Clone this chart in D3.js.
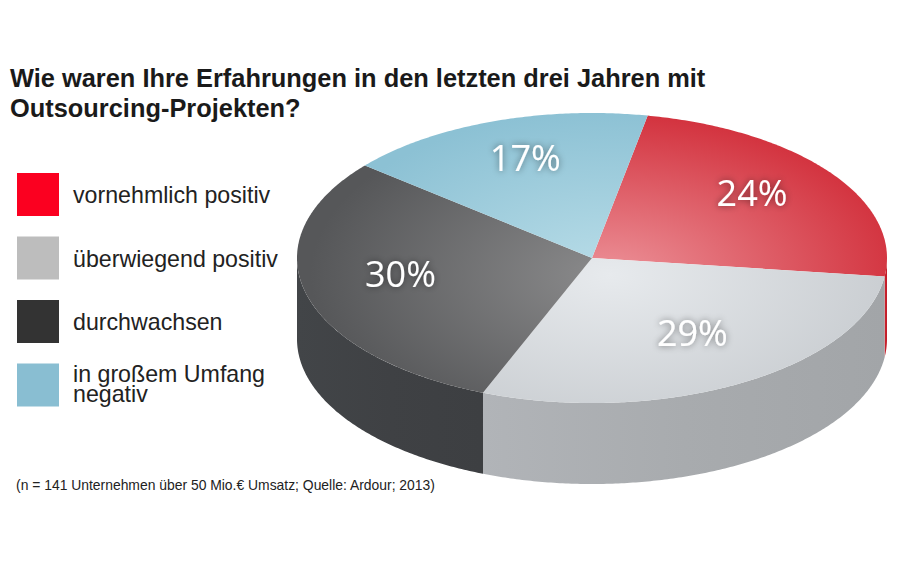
<!DOCTYPE html>
<html><head><meta charset="utf-8">
<script src="https://cdn.jsdelivr.net/npm/d3@7/dist/d3.min.js"></script>
<style>
html,body{margin:0;padding:0;background:#fff;}
svg{display:block;}
</style></head>
<body>
<svg id="chart" width="900" height="563"></svg>
<script>
// ---- data ----
const categories = ["vornehmlich positiv", "überwiegend positiv", "durchwachsen", "in großem Umfang negativ"];
const legendLines = [["vornehmlich positiv"], ["überwiegend positiv"], ["durchwachsen"], ["in großem Umfang", "negativ"]];
const values = [24, 29, 30, 17];
const valueLabels = ["24%", "29%", "30%", "17%"];
const titleLines = ["Wie waren Ihre Erfahrungen in den letzten drei Jahren mit", "Outsourcing-Projekten?"];
const footnote = "(n = 141 Unternehmen über 50 Mio.€ Umsatz; Quelle: Ardour; 2013)";

// ---- styles ----
const legendColors = ["#fb0020", "#bdbdbd", "#333333", "#89bed2"];
const topInner = ["#ec9198", "#e7eaed", "#8b8b8c", "#b9dde8"];
const topOuter = ["#d2303c", "#c8ccd0", "#565759", "#8cc1d4"];
const sideColors = ["#c61f2b", "#a8abae", "#3f4144", "#6e9fb2"];

const svg = d3.select("#chart");
const defs = svg.append("defs");

// title
svg.append("g").selectAll("text").data(titleLines).join("text")
  .attr("x", 10).attr("y", (d,i) => 87 + i*30)
  .attr("font-family", "Liberation Sans, Arial, sans-serif")
  .attr("font-weight", "bold").attr("font-size", 25.4)
  .attr("fill", "#1a1a1a").text(d => d);

// legend
const lg = svg.append("g").selectAll("g").data(categories).join("g")
  .attr("transform", (d,i) => `translate(17,${173 + i*63.5})`);
lg.append("rect").attr("width", 42).attr("height", 43)
  .attr("fill", (d,i) => legendColors[i]);
lg.append("text")
  .attr("font-family", "Liberation Sans, Arial, sans-serif")
  .attr("font-size", 23.2).attr("fill", "#222")
  .attr("x", 56)
  .each(function(d,i){
    const lines = legendLines[i];
    const t = d3.select(this);
    lines.forEach((l,j) => {
      t.append("tspan").attr("x", 56)
        .attr("y", lines.length === 1 ? 30 : 18 + j*20.5).text(l);
    });
  });

// footnote
svg.append("text").attr("x", 16).attr("y", 490)
  .attr("font-family", "Liberation Sans, Arial, sans-serif")
  .attr("font-size", 13.9).attr("fill", "#222").text(footnote);

// ---- pie geometry (tilted disc) ----
const xS = d3.scaleLinear().domain([-1, 1]).range([297, 887]);
const yS = d3.scaleLinear().domain([-1, 1]).range([403, 113]);
const depth = 81;
const cx = xS(0), cy = yS(0);

const pie = d3.pie().sort(null).value(d => d)
  .startAngle(0.19).endAngle(0.19 + 2*Math.PI);
const arcs = pie(values);

function pt(a, r, dz) { return [xS(r*Math.sin(a)), yS(r*Math.cos(a)) + (dz||0)]; }
function arcPts(a0, a1, r, dz) {
  const n = Math.max(2, Math.ceil(Math.abs(a1-a0) / 0.01));
  return d3.range(n+1).map(k => pt(a0 + (a1-a0)*k/n, r, dz));
}
const line = d3.line();

// gradients
arcs.forEach((d,i) => {
  const g = defs.append("radialGradient").attr("id", "tg"+i)
    .attr("gradientUnits", "userSpaceOnUse")
    .attr("cx", 610).attr("cy", 275).attr("r", 300)
    .attr("fx", 610).attr("fy", 275)
    .attr("gradientTransform", "translate(610,275) scale(1,0.55) translate(-610,-275)");
  g.append("stop").attr("offset", "0%").attr("stop-color", topInner[i]);
  g.append("stop").attr("offset", "100%").attr("stop-color", topOuter[i]);
  const s = defs.append("linearGradient").attr("id", "sg"+i)
    .attr("x1", 0).attr("x2", 1).attr("y1", 0).attr("y2", 0);
  const c = d3.color(sideColors[i]);
  s.append("stop").attr("offset", "0%").attr("stop-color", c.brighter(0.15));
  s.append("stop").attr("offset", "50%").attr("stop-color", c);
  s.append("stop").attr("offset", "100%").attr("stop-color", c.darker(0.1));
});

// text glow
const f = defs.append("filter").attr("id", "glow")
  .attr("x", "-30%").attr("y", "-30%").attr("width", "160%").attr("height", "160%");
f.append("feGaussianBlur").attr("in", "SourceAlpha").attr("stdDeviation", 3.5).attr("result", "b");
f.append("feComponentTransfer").attr("in", "b").attr("result", "b2")
  .append("feFuncA").attr("type", "linear").attr("slope", 0.5);
const m = f.append("feMerge");
m.append("feMergeNode").attr("in", "b2");
m.append("feMergeNode").attr("in", "SourceGraphic");

// sides (front half: angles between PI/2 and 3PI/2)
const sides = svg.append("g");
arcs.forEach((d,i) => {
  const lo = Math.max(d.startAngle, Math.PI/2);
  const hi = Math.min(d.endAngle, 3*Math.PI/2);
  if (hi <= lo) return;
  const top = arcPts(lo, hi, 1, 0);
  const bot = arcPts(hi, lo, 1, depth);
  sides.append("path").attr("d", line(top.concat(bot)) + "Z")
    .attr("fill", `url(#sg${i})`);
});

// tops
const tops = svg.append("g");
arcs.forEach((d,i) => {
  const p = [[cx, cy]].concat(arcPts(d.startAngle, d.endAngle, 1, 0));
  tops.append("path").attr("d", line(p) + "Z")
    .attr("fill", `url(#tg${i})`);
});

// labels
svg.append("g").selectAll("text").data(arcs).join("text")
  .attr("transform", d => {
    const a = (d.startAngle + d.endAngle)/2;
    const p = pt(a, 0.67, 0);
    return `translate(${p[0]},${p[1]})`;
  })
  .attr("text-anchor", "middle").attr("dy", "0.13em")
  .attr("font-family", "Open Sans, Noto Sans, sans-serif")
  .attr("font-size", 36).attr("fill", "#fff")
  .attr("filter", "url(#glow)")
  .text((d,i) => valueLabels[i]);
</script>
</body></html>
